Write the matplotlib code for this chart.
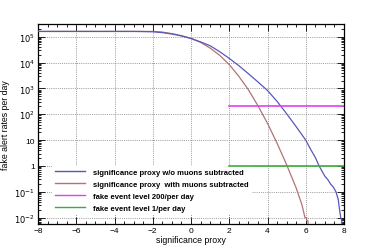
import matplotlib
matplotlib.use('Agg')
import matplotlib.pyplot as plt
from matplotlib.ticker import FixedLocator, LogLocator, NullFormatter, MultipleLocator

plt.rcParams['font.family'] = ['Liberation Sans', 'DejaVu Sans']

# curves (x = significance proxy, y = rate per day)
x_wo = [-8.0, -3.0, -2.5, -2.0, -1.5, -1.0, -0.5, 0.0, 0.5, 1.0, 1.5, 2.0,
        2.5, 3.0, 3.5, 4.0, 4.5, 5.0, 5.5, 6.0, 6.25, 6.5, 6.7, 6.85, 7.0,
        7.15, 7.3, 7.45, 7.58, 7.7, 7.75, 7.83, 7.88, 7.9]
y_wo = [1.6e5, 1.6e5, 1.58e5, 1.55e5, 1.44e5, 1.27e5, 1.07e5, 8.5e4, 6.3e4,
        4.47e4, 2.63e4, 1.45e4, 7.59e3, 3.72e3, 1.78e3, 832, 316, 105, 33.1,
        10, 4.47, 2.14, 1.0, 0.63, 0.4, 0.3, 0.2, 0.15, 0.1, 0.05, 0.025,
        0.01, 0.008, 0.001]

x_with = [-8.0, -3.0, -2.0, -1.5, -1.0, -0.5, 0.0, 0.5, 1.0, 1.5, 2.0, 2.5,
          3.0, 3.5, 4.0, 4.5, 5.0, 5.5, 5.8, 5.96, 6.05, 6.05, 6.12, 6.12]
y_with = [1.6e5, 1.6e5, 1.6e5, 1.51e5, 1.32e5, 1.10e5, 8.7e4, 6.03e4,
          3.63e4, 1.91e4, 8.32e3, 2.95e3, 891, 214, 44.7, 7.59, 1.12, 0.141,
          0.0316, 0.01, 0.01, 0.0075, 0.0075, 0.001]

level_x = [2, 8]
level_200 = [200, 200]
level_1 = [1, 1]

labels = ['significance proxy w/o muons subtracted',
          'significance proxy  with muons subtracted',
          'fake event level 200/per day',
          'fake event level 1/per day']

fig = plt.figure(figsize=(3.82, 2.51), dpi=100)
ax = fig.add_axes([38 / 382, 26 / 251, 306 / 382, 200 / 251])

ax.plot(x_wo, y_wo, color='#5858b8', lw=0.9, label=labels[0], zorder=3)
ax.plot(x_with, y_with, color='#b07474', lw=0.9, label=labels[1], zorder=2.9)
ax.plot(level_x, level_200, color='#e040f0', lw=1.2, label=labels[2], zorder=3)
ax.plot(level_x, level_1, color='#3cac3c', lw=1.2, label=labels[3], zorder=3)

ax.set_yscale('log')
ax.set_xlim(-8, 8)
ax.set_ylim(5.7e-3, 3.1e5)

ax.set_xticks([-8, -6, -4, -2, 0, 2, 4, 6, 8])
ax.set_xticklabels(['\u22128', '\u22126', '\u22124', '\u22122', '0', '2', '4', '6', '8'])
ax.xaxis.set_minor_locator(MultipleLocator(0.5))

yt = [1e-2, 1e-1, 1, 10, 1e2, 1e3, 1e4, 1e5]
ax.yaxis.set_major_locator(FixedLocator(yt))
ax.set_yticklabels([r'$10^{-2}$', r'$10^{-1}$', '1', '10', r'$10^{2}$',
                    r'$10^{3}$', r'$10^{4}$', r'$10^{5}$'])
ax.yaxis.set_minor_locator(LogLocator(base=10, subs=range(2, 10), numticks=20))
ax.yaxis.set_minor_formatter(NullFormatter())

ax.tick_params(which='both', direction='in', top=True, right=True,
               labelsize=6, width=0.6, pad=2)
ax.tick_params(which='major', length=5)
ax.tick_params(which='minor', length=2.5)

ax.grid(True, which='major', color='#999999', ls=(0, (1, 1.2)), lw=0.7)
for s in ax.spines.values():
    s.set_linewidth(0.9)

ax.set_xlabel('significance proxy', fontsize=6.3, labelpad=1)
ax.set_ylabel('fake alert rates per day', fontsize=6.3, labelpad=3)

leg = ax.legend(loc='lower left', bbox_to_anchor=(0.045, 0.045),
                prop={'weight': 'bold', 'size': 5.5}, frameon=True,
                fancybox=False, edgecolor='none', framealpha=1,
                handlelength=4.0, handletextpad=1.0, labelspacing=0.6,
                borderpad=0.4, borderaxespad=0)
leg.set_zorder(2)
for line in leg.get_lines():
    line.set_linewidth(1.0)

fig.savefig('out.png', dpi=100)
